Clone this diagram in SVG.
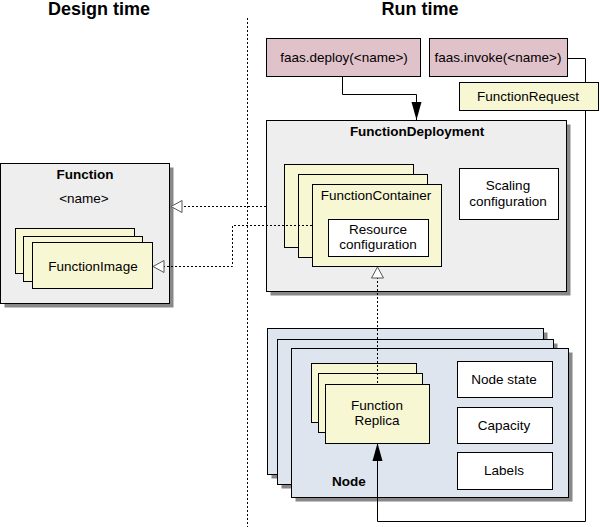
<svg xmlns="http://www.w3.org/2000/svg" width="600" height="527" viewBox="0 0 600 527">
<style>
text{font-family:"Liberation Sans",Arial,sans-serif;font-size:13.5px;fill:#000;text-anchor:middle}
.h{font-size:18px;font-weight:bold}
.b{font-weight:bold}
.box{stroke:#000;stroke-width:1}
.gray{fill:#eeeeee}
.yel{fill:#f7f7d4}
.wht{fill:#ffffff}
.pink{fill:#e0c2cb}
.blue{fill:#dee5ee}
.sh{fill:#888888}
.dot{fill:none;stroke:#000;stroke-width:1;stroke-dasharray:2 2}
.sol{fill:none;stroke:#000;stroke-width:1}
</style>
<defs>
<marker id="hollow" viewBox="0 0 13 14" refX="12" refY="7" markerWidth="13" markerHeight="14" markerUnits="userSpaceOnUse" orient="auto">
<path d="M1,1 L12,7 L1,13 Z" fill="#fff" stroke="#555" stroke-width="1"/>
</marker>
<marker id="filled" viewBox="0 0 18 12" refX="18" refY="6" markerWidth="18" markerHeight="12" markerUnits="userSpaceOnUse" orient="auto">
<path d="M0,1 L18,6 L0,11 Z" fill="#000"/>
</marker>
</defs>

<text class="h" x="99" y="15">Design time</text>
<text class="h" x="420" y="15">Run time</text>
<line x1="247.5" y1="18" x2="247.5" y2="527" class="dot"/>

<g id="function">
<rect x="4.5" y="167.5" width="169" height="140" class="sh"/>
<rect x="0.5" y="163.5" width="169" height="140" class="box gray"/>
<text class="b" x="85" y="179">Function</text>
<text x="84" y="203">&lt;name&gt;</text>
</g>
<g id="functionimage">
<rect x="15.5" y="228.5" width="119" height="45" class="box yel"/>
<rect x="23.5" y="236.5" width="119" height="45" class="box yel"/>
<rect x="32.5" y="242.5" width="120" height="46" class="box yel"/>
<text x="93" y="271">FunctionImage</text>
</g>

<g id="deploy">
<rect x="266.5" y="38.5" width="154" height="38" class="box pink"/>
<text x="344" y="62">faas.deploy(&lt;name&gt;)</text>
</g>
<g id="invoke">
<rect x="429.5" y="38.5" width="138" height="38" class="box pink"/>
<text x="498" y="62">faas.invoke(&lt;name&gt;)</text>
</g>

<g id="functiondeployment">
<rect x="270.5" y="124.5" width="300" height="171" class="sh"/>
<rect x="266.5" y="120.5" width="300" height="171" class="box gray"/>
<text class="b" x="417" y="136">FunctionDeployment</text>
</g>
<g id="scaling">
<rect x="459.5" y="168.5" width="99" height="51" class="box wht"/>
<text x="508" y="190">Scaling</text>
<text x="508" y="206">configuration</text>
</g>
<g id="functioncontainer">
<rect x="284.5" y="164.5" width="129" height="83" class="box yel"/>
<rect x="298.5" y="174.5" width="129" height="83" class="box yel"/>
<rect x="312.5" y="184.5" width="129" height="82" class="box yel"/>
<text x="376" y="200">FunctionContainer</text>
</g>
<g id="resource">
<rect x="328.5" y="219.5" width="100" height="37" class="box wht"/>
<text x="378" y="234">Resource</text>
<text x="378" y="249">configuration</text>
</g>

<g id="node">
<rect x="271.5" y="332.5" width="276" height="146" class="sh"/>
<rect x="267.5" y="328.5" width="276" height="146" class="box blue"/>
<rect x="281.5" y="343.5" width="276" height="145" class="sh"/>
<rect x="277.5" y="339.5" width="276" height="145" class="box blue"/>
<rect x="295.5" y="352.5" width="277" height="149" class="sh"/>
<rect x="291.5" y="348.5" width="277" height="149" class="box blue"/>
<text class="b" x="332" y="486" style="text-anchor:start">Node</text>
</g>
<g id="replica">
<rect x="311.5" y="363.5" width="105" height="59" class="box yel"/>
<rect x="318.5" y="373.5" width="104" height="59" class="box yel"/>
<rect x="325.5" y="384.5" width="104" height="59" class="box yel"/>
<text x="377" y="410">Function</text>
<text x="377" y="425">Replica</text>
</g>
<g id="nodestate">
<rect x="457.5" y="361.5" width="95" height="36" class="box wht"/>
<text x="504" y="384">Node state</text>
</g>
<g id="capacity">
<rect x="457.5" y="407.5" width="95" height="36" class="box wht"/>
<text x="504" y="430">Capacity</text>
</g>
<g id="labels">
<rect x="457.5" y="452.5" width="95" height="37" class="box wht"/>
<text x="504" y="475">Labels</text>
</g>

<g id="connectors">
<path d="M266,206.5 H171" class="dot" marker-end="url(#hollow)"/>
<path d="M312,225.5 H232.5 V266.5 H153" class="dot" marker-end="url(#hollow)"/>
<path d="M377.5,383 V267" class="dot" marker-end="url(#hollow)"/>
<path d="M342.5,76 V94.5 H416.5 V120" class="sol" marker-end="url(#filled)"/>
<path d="M568,58.5 H585.5 V521.5 H377.5 V443" class="sol" marker-end="url(#filled)"/>
</g>

<g id="functionrequest">
<rect x="459.5" y="82.5" width="139" height="28" class="box yel"/>
<text x="528" y="101">FunctionRequest</text>
</g>
</svg>
